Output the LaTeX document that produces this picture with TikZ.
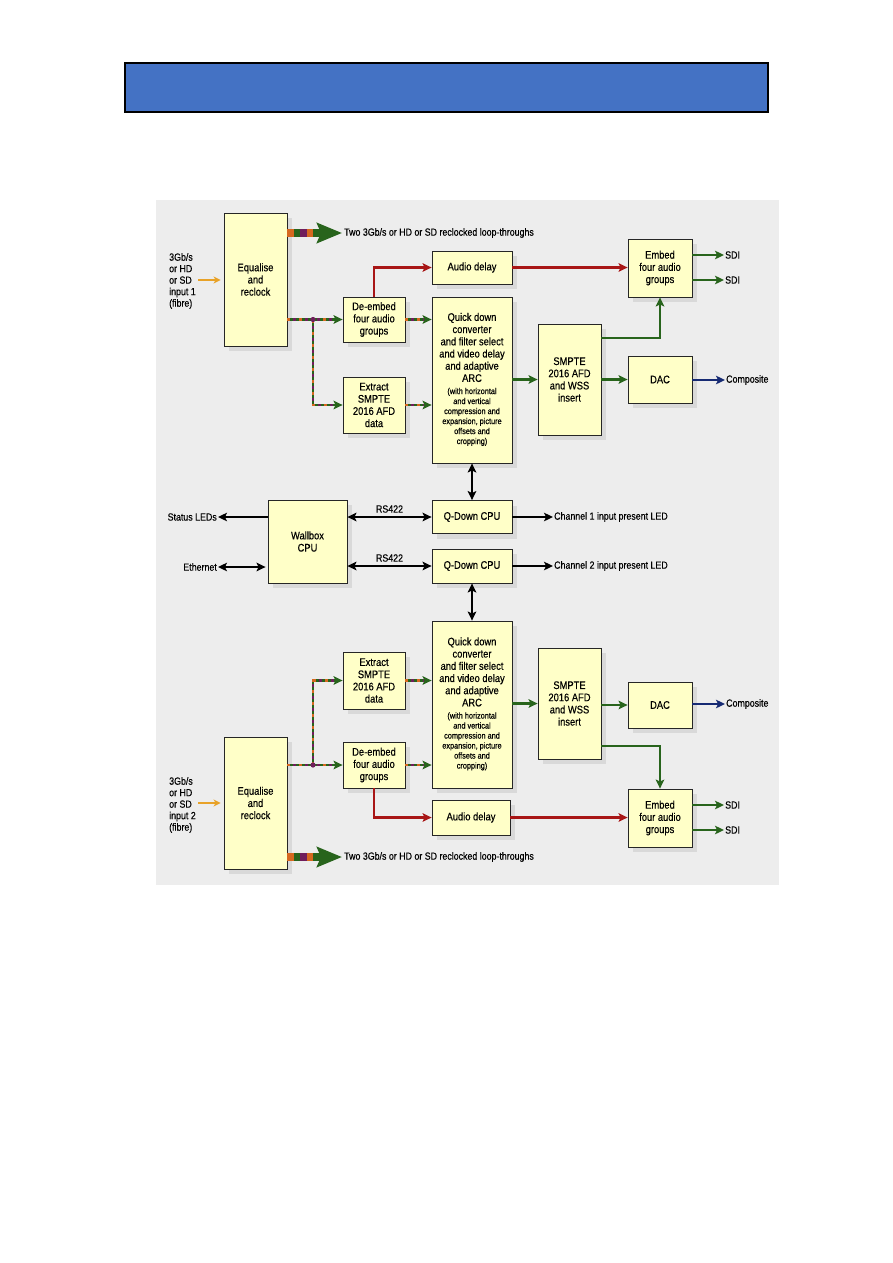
\documentclass[tikz,border=0pt]{standalone}
\usepackage{fontspec}
\setmainfont{Liberation Sans}[FakeStretch=0.85,FakeBold=0.35]
\usetikzlibrary{arrows.meta,shadows,calc}
\definecolor{hdrblue}{RGB}{68,114,196}
\definecolor{bggray}{RGB}{237,237,237}
\definecolor{boxfill}{RGB}{255,255,200}
\definecolor{cred}{RGB}{168,22,22}
\definecolor{cgreen}{RGB}{40,100,28}
\definecolor{cblue}{RGB}{22,42,115}
\definecolor{corange}{RGB}{214,104,32}
\definecolor{cpurple}{RGB}{112,30,92}
\definecolor{cin}{RGB}{232,162,40}
\newcommand\myfs[2]{\fontsize{#1}{#2}\selectfont}
\newcommand\smallblock[1]{{\myfs{8.6}{10}\begin{tabular}[t]{@{}c@{}}#1\end{tabular}}}
\begin{document}
\begin{tikzpicture}[x=1pt,y=-1pt,
  box/.style={draw=black!85, line width=0.8pt, fill=boxfill, align=center, inner sep=1pt,
    font=\myfs{11}{12.2},
    drop shadow={shadow xshift=5pt, shadow yshift=-5pt, fill=black!15, opacity=1}},
  lbl/.style={font=\myfs{10.4}{11.5}, inner sep=1pt},
  redar/.style={draw=cred, line width=2.6pt, -{Stealth[length=9pt,width=8.5pt,inset=2pt]}},
  grar/.style={draw=cgreen, line width=2.6pt, -{Stealth[length=9pt,width=8.5pt,inset=2pt]}},
  blar/.style={draw=cblue, line width=2.6pt, -{Stealth[length=9pt,width=8.5pt,inset=2pt]}},
  bkar/.style={draw=black, line width=2.6pt, -{Stealth[length=9pt,width=8.5pt,inset=2pt]}},
  bkdbl/.style={draw=black, line width=2.6pt, {Stealth[length=9pt,width=8.5pt,inset=2pt]}-{Stealth[length=9pt,width=8.5pt,inset=2pt]}},
  orar/.style={draw=cin, line width=2pt, -{Stealth[length=7pt,width=7pt,inset=2pt]}},
  mline/.style={draw=cgreen, line width=2.6pt, -{Stealth[length=9pt,width=8.5pt,inset=2pt]},
    postaction={draw=corange, line width=2.6pt, -, shorten >=8pt, dash pattern=on 3pt off 9pt},
    postaction={draw=cpurple, line width=2.6pt, -, shorten >=8pt, dash pattern=on 3pt off 9pt, dash phase=6pt}},
  bigar/.style={draw=cgreen, line width=8pt, -{Stealth[length=25pt,width=20pt,inset=4pt]},
    postaction={draw=corange, line width=8pt, -, shorten >=24pt, dash pattern=on 6.5pt off 13pt},
    postaction={draw=cpurple, line width=8pt, -, shorten >=24pt, dash pattern=on 6.5pt off 13pt, dash phase=6.5pt}},
]
\useasboundingbox (0,0) rectangle (893,1263);
\fill[white] (0,0) rectangle (893,1263);
% header bar
\draw[line width=1.3pt, fill=hdrblue] (125,63) rectangle (768,112);
% diagram background
\fill[bggray] (156,200) rectangle (779,885);

% ---------------- top channel ----------------
\node[box, minimum width=63pt, minimum height=133pt] (eq1) at (255.5,279.5) {Equalise\\and\\reclock};
\node[box, minimum width=62pt, minimum height=45pt] (de1) at (374,319.5) {De-embed\\four audio\\groups};
\node[box, minimum width=62pt, minimum height=56pt] (ex1) at (374,405) {Extract\\SMPTE\\2016 AFD\\data};
\node[box, minimum width=80pt, minimum height=33pt] (ad1) at (472,267.5) {Audio delay};
\node[box, minimum width=80pt, minimum height=166pt] (qd1) at (472,380) {Quick down\\converter\\and filter select\\and video delay\\and adaptive\\ARC\\\smallblock{(with horizontal\\and vertical\\compression and\\expansion, picture\\offsets and\\cropping)}};
\node[box, minimum width=63pt, minimum height=111pt] (sm1) at (569.5,379.5) {SMPTE\\2016 AFD\\and WSS\\insert};
\node[box, minimum width=64pt, minimum height=58pt] (em1) at (660,268) {Embed\\four audio\\groups};
\node[box, minimum width=64pt, minimum height=47pt] (dac1) at (660,379.5) {DAC};

\node[lbl, anchor=west, align=left] (in1) at (168,281) {3Gb/s\\or HD\\or SD\\input 1\\(fibre)};
\node[lbl, anchor=west] (lt1) at (343,233) {Two 3Gb/s or HD or SD reclocked loop-throughs};
\node[lbl, anchor=west] (sdi1a) at (724,255) {SDI};
\node[lbl, anchor=west] (sdi1b) at (724,280) {SDI};
\node[lbl, anchor=west] (cmp1) at (725,380) {Composite};

\coordinate (ia1) at (198,280);
\draw[orar] (ia1) -- ([xshift=-3pt]ia1 -| eq1.west);
\draw[bigar] (eq1.east |- lt1) -- ([xshift=-1pt]lt1.west);
\coordinate (j1) at (313,319.5);
\draw[mline] (eq1.east |- de1) -- (de1.west);
\draw[mline] (j1) |- (ex1.west);
\fill[cpurple] (j1) circle (2.6pt);
\draw[mline] (de1.east) -- (de1.east -| qd1.west);
\draw[mline] (ex1.east) -- (ex1.east -| qd1.west);
\draw[redar] (de1.north) |- (ad1.west);
\draw[redar] (ad1.east) -- (ad1.east -| em1.west);
\draw[grar] (qd1.east |- sm1) -- (sm1.west);
\draw[grar] (sm1.east |- dac1) -- (dac1.west);
\draw[grar] ([yshift=41.5pt]sm1.east) -| (em1.south);
\draw[grar] (em1.east |- sdi1a) -- (sdi1a.west);
\draw[grar] (em1.east |- sdi1b) -- (sdi1b.west);
\draw[blar] (dac1.east |- cmp1) -- (cmp1.west);

% ---------------- middle ----------------
\node[box, minimum width=79pt, minimum height=83pt] (wb) at (307.5,541.5) {Wallbox\\CPU};
\node[box, minimum width=80pt, minimum height=33pt] (qc1) at (472,517) {Q-Down CPU};
\node[box, minimum width=80pt, minimum height=34pt] (qc2) at (472,566) {Q-Down CPU};
\node[lbl, anchor=east] (stl) at (218,517) {Status LEDs};
\node[lbl, anchor=east] (eth) at (218,567) {Ethernet};
\node[lbl, anchor=west] (ch1) at (553,517) {Channel 1 input present LED};
\node[lbl, anchor=west] (ch2) at (553,566) {Channel 2 input present LED};

\draw[bkar] (wb.west |- stl) -- (stl.east);
\draw[bkdbl] (eth.east) -- ([xshift=-2pt]eth.east -| wb.west);
\draw[bkdbl] (wb.east |- qc1) -- node[lbl, above=2pt] (rs1) {RS422} (qc1.west);
\draw[bkdbl] (wb.east |- qc2) -- node[lbl, above=2pt] (rs2) {RS422} (qc2.west);
\draw[bkar] (qc1.east) -- (ch1.west);
\draw[bkar] (qc2.east) -- (ch2.west);
\draw[bkdbl] (qd1.south) -- (qd1.south |- qc1.north);

% ---------------- bottom channel ----------------
\node[box, minimum width=80pt, minimum height=167pt] (qd2) at (472,704.5) {Quick down\\converter\\and filter select\\and video delay\\and adaptive\\ARC\\\smallblock{(with horizontal\\and vertical\\compression and\\expansion, picture\\offsets and\\cropping)}};
\node[box, minimum width=62pt, minimum height=57pt] (ex2) at (374,680.5) {Extract\\SMPTE\\2016 AFD\\data};
\node[box, minimum width=62pt, minimum height=46pt] (de2) at (374,765) {De-embed\\four audio\\groups};
\node[box, minimum width=63pt, minimum height=132pt] (eq2) at (255.5,803) {Equalise\\and\\reclock};
\node[box, minimum width=78pt, minimum height=35pt] (ad2) at (471,817.5) {Audio delay};
\node[box, minimum width=63pt, minimum height=111pt] (sm2) at (569.5,703.5) {SMPTE\\2016 AFD\\and WSS\\insert};
\node[box, minimum width=64pt, minimum height=46pt] (dac2) at (660,705) {DAC};
\node[box, minimum width=64pt, minimum height=58pt] (em2) at (660,818) {Embed\\four audio\\groups};

\node[lbl, anchor=west, align=left] (in2) at (168,805) {3Gb/s\\or HD\\or SD\\input 2\\(fibre)};
\node[lbl, anchor=west] (lt2) at (343,857) {Two 3Gb/s or HD or SD reclocked loop-throughs};
\node[lbl, anchor=west] (sdi2a) at (724,805) {SDI};
\node[lbl, anchor=west] (sdi2b) at (724,830) {SDI};
\node[lbl, anchor=west] (cmp2) at (725,704) {Composite};

\draw[bkdbl] (qc2.south) -- (qc2.south |- qd2.north);
\coordinate (ia2) at (198,803);
\draw[orar] (ia2) -- ([xshift=-3pt]ia2 -| eq2.west);
\draw[bigar] (eq2.east |- lt2) -- ([xshift=-1pt]lt2.west);
\coordinate (j2) at (313,765);
\draw[mline] (eq2.east |- de2) -- (de2.west);
\draw[mline] (j2) |- (ex2.west);
\fill[cpurple] (j2) circle (2.6pt);
\draw[mline] (de2.east) -- (de2.east -| qd2.west);
\draw[mline] (ex2.east) -- (ex2.east -| qd2.west);
\draw[redar] (de2.south) |- (ad2.west);
\draw[redar] (ad2.east) -- (ad2.east -| em2.west);
\draw[grar] (qd2.east |- sm2) -- (sm2.west);
\draw[grar] (sm2.east |- dac2) -- (dac2.west);
\draw[grar] ([yshift=-42.5pt]sm2.east) -| (em2.north);
\draw[grar] (em2.east |- sdi2a) -- (sdi2a.west);
\draw[grar] (em2.east |- sdi2b) -- (sdi2b.west);
\draw[blar] (dac2.east |- cmp2) -- (cmp2.west);
\end{tikzpicture}
\end{document}
